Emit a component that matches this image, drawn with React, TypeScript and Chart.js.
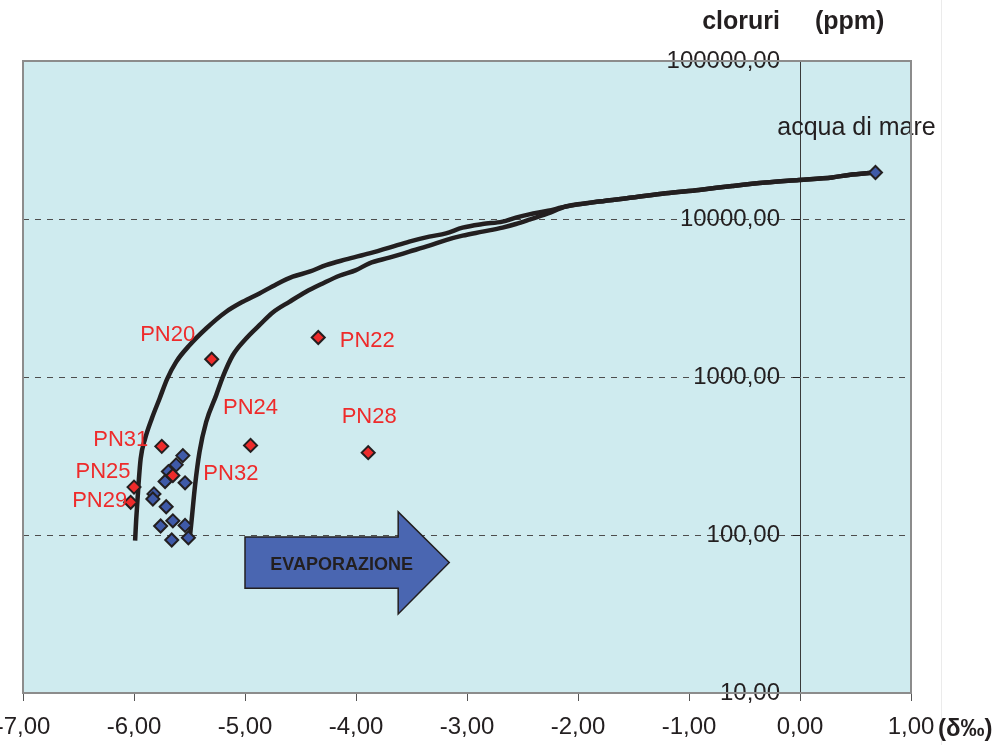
import React, { useEffect, useRef } from 'react';
import { Chart, registerables } from 'chart.js';

Chart.register(...registerables);

// ---- data ----
const X_TICKS = [-7, -6, -5, -4, -3, -2, -1, 0, 1];
const Y_TICKS = [10, 100, 1000, 10000, 100000];

const RED_NAMES = ['PN20', 'PN22', 'PN24', 'PN28', 'PN31', 'PN25', 'PN29', 'PN32'];
const RED_X = [-5.3, -4.34, -4.95, -3.89, -5.75, -6.0, -6.03, -5.65];
const RED_Y = [1295, 1778, 369, 332, 364, 201, 161, 238];

const BLUE_X = [-5.56, -5.62, -5.69, -5.72, -5.54, -5.82, -5.83, -5.71, -5.65, -5.76, -5.54, -5.66, -5.51];
const BLUE_Y = [318, 278, 252, 218, 214, 182, 169, 151, 123, 114, 115, 93, 96];

const SEA_NAME = 'acqua di mare';
const SEA_X = [0.68];
const SEA_Y = [19700];

const SHARED_X = [-2.11, -1.81, -1.51, -1.21, -0.91, -0.61, -0.31, -0.01, 0.29, 0.44, 0.68];
const SHARED_Y = [11990, 12890, 13670, 14560, 15280, 16180, 17020, 17660, 18320, 19010, 19700];

const OUTER_X = [-5.99, -5.98, -5.96, -5.94, -5.9, -5.84, -5.77, -5.7, -5.62, -5.5, -5.35, -5.17, -5.02, -4.87, -4.72, -4.57, -4.42, -4.27, -4.09, -3.88, -3.7, -3.52, -3.34, -3.19, -3.04, -2.86, -2.68, -2.56, -2.44, -2.27];
const OUTER_Y = [92, 126, 206, 304, 407, 545, 729, 977, 1247, 1589, 2028, 2588, 2994, 3381, 3855, 4315, 4637, 5109, 5550, 6063, 6590, 7190, 7730, 8110, 8810, 9290, 9630, 10200, 10700, 11270];

const INNER_X = [-5.5, -5.48, -5.45, -5.41, -5.35, -5.26, -5.2, -5.11, -4.99, -4.87, -4.75, -4.6, -4.45, -4.3, -4.15, -4.0, -3.88, -3.7, -3.52, -3.34, -3.19, -3.04, -2.86, -2.68, -2.56, -2.44, -2.27];
const INNER_Y = [92, 126, 206, 335, 519, 765, 1002, 1373, 1752, 2127, 2560, 2992, 3465, 3910, 4375, 4750, 5240, 5690, 6210, 6780, 7360, 7850, 8320, 8820, 9300, 9900, 10870];

// arrow annotation, in data units
const ARROW_TEXT = 'EVAPORAZIONE';
const ARROW_X = [-5.0, -3.62, -3.16]; // body start, head base, tip
const ARROW_Y = [97, 46, 140, 31.6, 67]; // body top, body bottom, head top, head bottom, tip

const X_TITLE = '(δ‰)';
const Y_TITLE_1 = 'cloruri';
const Y_TITLE_2 = '(ppm)';

// ---- layout / styling ----
const LABEL_OFFSETS = [[-44, -24], [49, 3], [0, -37], [1, -36], [-41, -6], [-31, -15], [-31, -1], [58, -2]];
const SEA_OFFSET = [-19, -44];
const FONT = '"Liberation Sans", Arial, Helvetica, sans-serif';
const DARK = '#231f20';
const RED = '#ee2b2b';
const BLUE = '#3f5aa8';
const Y_TICK_LEN = 7;
const Y_LABEL_PAD = 13;

const fmt = (v: number) => Number(v).toFixed(2).replace('.', ',');
const pts = (xs: number[], ys: number[]) => xs.map((x, i) => ({ x, y: ys[i] }));

export default function App() {
  const ref = useRef<HTMLCanvasElement>(null);

  useEffect(() => {
    const canvas = ref.current!;

    const overlay = {
      id: 'overlay',
      beforeDraw(chart: any) {
        const { ctx, chartArea: a } = chart;
        ctx.save();
        ctx.fillStyle = '#ffffff';
        ctx.fillRect(0, 0, chart.width, chart.height);
        ctx.fillStyle = '#cfebef';
        ctx.fillRect(a.left, a.top, a.right - a.left, a.bottom - a.top);
        ctx.strokeStyle = '#ebebeb';
        ctx.lineWidth = 1;
        ctx.beginPath();
        ctx.moveTo(941.5, 0);
        ctx.lineTo(941.5, chart.height);
        ctx.stroke();
        ctx.restore();
      },
      beforeDatasetsDraw(chart: any) {
        const { ctx } = chart;
        const xs = chart.scales.x;
        const ys = chart.scales.y;
        ctx.save();
        // y tick labels, placed left of the crossing axis
        const xz = xs.getPixelForValue(0);
        ctx.fillStyle = DARK;
        ctx.font = `24px ${FONT}`;
        ctx.textAlign = 'right';
        ctx.textBaseline = 'middle';
        ys.ticks.forEach((t: any) => {
          ctx.fillText(fmt(t.value), xz - Y_TICK_LEN - Y_LABEL_PAD, ys.getPixelForValue(t.value));
        });
        // arrow annotation
        const x0 = xs.getPixelForValue(ARROW_X[0]);
        const x1 = xs.getPixelForValue(ARROW_X[1]);
        const x2 = xs.getPixelForValue(ARROW_X[2]);
        const yt = ys.getPixelForValue(ARROW_Y[0]);
        const yb = ys.getPixelForValue(ARROW_Y[1]);
        const yht = ys.getPixelForValue(ARROW_Y[2]);
        const yhb = ys.getPixelForValue(ARROW_Y[3]);
        const ytip = ys.getPixelForValue(ARROW_Y[4]);
        ctx.beginPath();
        ctx.moveTo(x0, yt);
        ctx.lineTo(x1, yt);
        ctx.lineTo(x1, yht);
        ctx.lineTo(x2, ytip);
        ctx.lineTo(x1, yhb);
        ctx.lineTo(x1, yb);
        ctx.lineTo(x0, yb);
        ctx.closePath();
        ctx.fillStyle = '#4a66b1';
        ctx.fill();
        ctx.lineWidth = 1.5;
        ctx.strokeStyle = DARK;
        ctx.stroke();
        ctx.fillStyle = DARK;
        ctx.font = `bold 18px ${FONT}`;
        ctx.textAlign = 'center';
        ctx.textBaseline = 'middle';
        ctx.fillText(ARROW_TEXT, (x0 + x1) / 2 + 20, (yt + yb) / 2 + 2);
        ctx.restore();
      },
      afterDatasetsDraw(chart: any) {
        const { ctx } = chart;
        const xs = chart.scales.x;
        const ys = chart.scales.y;
        ctx.save();
        ctx.textAlign = 'center';
        ctx.textBaseline = 'middle';
        ctx.font = `22px ${FONT}`;
        ctx.fillStyle = RED;
        RED_NAMES.forEach((n, i) => {
          const px = xs.getPixelForValue(RED_X[i]) + LABEL_OFFSETS[i][0];
          const py = ys.getPixelForValue(RED_Y[i]) + LABEL_OFFSETS[i][1];
          ctx.fillText(n, px, py);
        });
        ctx.fillStyle = DARK;
        ctx.font = `25px ${FONT}`;
        ctx.fillText(SEA_NAME, xs.getPixelForValue(SEA_X[0]) + SEA_OFFSET[0], ys.getPixelForValue(SEA_Y[0]) + SEA_OFFSET[1]);
        ctx.restore();
      },
      afterDraw(chart: any) {
        const { ctx, chartArea: a } = chart;
        const xs = chart.scales.x;
        ctx.save();
        ctx.strokeStyle = '#8c8c8c';
        ctx.lineWidth = 2;
        ctx.strokeRect(a.left, a.top, a.right - a.left, a.bottom - a.top);
        const xz = xs.getPixelForValue(0);
        ctx.fillStyle = DARK;
        ctx.font = `bold 25px ${FONT}`;
        ctx.textBaseline = 'middle';
        ctx.textAlign = 'right';
        ctx.fillText(Y_TITLE_1, xz - 20, a.top - 39);
        ctx.textAlign = 'left';
        ctx.fillText(Y_TITLE_2, xz + 15, a.top - 39);
        ctx.font = `bold 24px ${FONT}`;
        ctx.fillText(X_TITLE, xs.getPixelForValue(1) + 27, a.bottom + 36);
        ctx.restore();
      },
    };

    const curve = (data: any[]) => ({
      type: 'line' as const,
      data,
      borderColor: DARK,
      borderWidth: 4.5,
      pointRadius: 0,
      fill: false,
      cubicInterpolationMode: 'monotone' as const,
      order: 5,
    });

    const chart = new Chart(canvas, {
      type: 'scatter',
      data: {
        datasets: [
          {
            data: pts(RED_X, RED_Y),
            pointStyle: 'rectRot',
            pointRadius: 6.5,
            backgroundColor: RED,
            borderColor: DARK,
            borderWidth: 2,
            order: 0,
          } as any,
          {
            data: pts(BLUE_X, BLUE_Y),
            pointStyle: 'rectRot',
            pointRadius: 6.5,
            backgroundColor: BLUE,
            borderColor: DARK,
            borderWidth: 2,
            order: 1,
          },
          {
            data: pts(SEA_X, SEA_Y),
            pointStyle: 'rectRot',
            pointRadius: 6.5,
            backgroundColor: BLUE,
            borderColor: DARK,
            borderWidth: 2,
            order: 2,
          },
          curve(pts([...OUTER_X, ...SHARED_X], [...OUTER_Y, ...SHARED_Y])),
          curve(pts([...INNER_X, ...SHARED_X], [...INNER_Y, ...SHARED_Y])),
        ],
      },
      options: {
        animation: false,
        responsive: false,
        devicePixelRatio: 1,
        layout: { padding: { left: 23, top: 61, right: 95, bottom: 0 } },
        plugins: { legend: { display: false }, tooltip: { enabled: false } },
        scales: {
          x: {
            type: 'linear',
            min: -7,
            max: 1,
            afterBuildTicks: (s: any) => {
              s.ticks = X_TICKS.map((v) => ({ value: v }));
            },
            afterFit: (s: any) => {
              s.height = 52;
              s.paddingLeft = 0;
              s.paddingRight = 0;
            },
            ticks: {
              callback: (v: any) => fmt(v),
              font: { family: FONT, size: 24 },
              color: DARK,
              padding: 12,
              maxRotation: 0,
              autoSkip: false,
            },
            grid: {
              drawOnChartArea: false,
              drawTicks: true,
              tickLength: 8,
              tickColor: '#555555',
              color: '#555555',
            },
            border: { display: false },
          },
          y: {
            type: 'logarithmic',
            min: 10,
            max: 100000,
            position: { x: 0 } as any,
            afterBuildTicks: (s: any) => {
              s.ticks = Y_TICKS.map((v) => ({ value: v }));
            },
            ticks: {
              display: false,
              callback: (v: any) => fmt(v),
              font: { family: FONT, size: 24 },
              autoSkip: false,
            },
            grid: {
              color: (c: any) =>
                c.tick && (c.tick.value === 10 || c.tick.value === 100000) ? 'rgba(0,0,0,0)' : '#4d4d4d',
              lineWidth: 1,
              tickLength: Y_TICK_LEN,
              tickColor: DARK,
              tickBorderDash: [],
            },
            border: { display: true, color: '#3a3a3a', width: 1, dash: [6, 6] },
          },
        },
      },
      plugins: [overlay],
    } as any);

    return () => chart.destroy();
  }, []);

  return (
    <div style={{ position: 'absolute', left: 0, top: 0, width: 1006, height: 745, background: '#fff' }}>
      <canvas ref={ref} width={1006} height={745} style={{ display: 'block', width: 1006, height: 745 }} />
    </div>
  );
}
